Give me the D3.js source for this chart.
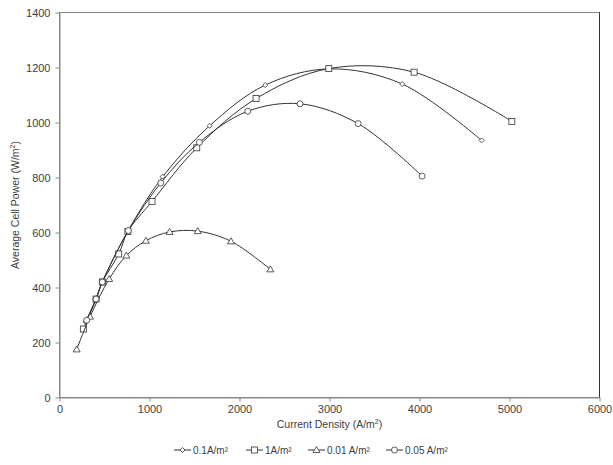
<!DOCTYPE html>
<html>
<head>
<meta charset="utf-8">
<script src="https://cdn.jsdelivr.net/npm/d3@7"></script>
<style>
  body { margin: 0; background: #fff; }
  text { font-family: "Liberation Sans", Arial, sans-serif; fill: #404040; }
</style>
</head>
<body>
<div class="canvas"></div>
<script>
// data: [current density, power]
const s01 = [[290,275],[400,355],[476,420],[760,605],[1147,803],[1668,988],[2286,1136],[3000,1195],[3808,1140],[4690,935]];
const s1 = [[265,249],[406,358],[476,420],[658,522],[760,604],[1028,713],[1525,908],[2184,1087],[2992,1196],[3940,1183],[5026,1004]];
const s001 = [[191,175],[339,294],[552,431],[743,516],[960,570],[1223,602],[1536,605],[1906,568],[2343,466]];
const s005 = [[302,281],[406,358],[476,420],[765,607],[1125,780],[1554,928],[2092,1041],[2673,1068],[3318,996],[4029,805]];

const seriesNames = ['0.1A/m²', '1A/m²', '0.01 A/m²', '0.05 A/m²'];
const seriesData = [s01, s1, s001, s005];
const seriesMarks = ['diamond', 'square', 'triangle', 'circle'];
const xTicks = [0, 1000, 2000, 3000, 4000, 5000, 6000];
const yTicks = [0, 200, 400, 600, 800, 1000, 1200, 1400];

let width = 613, height = 465;
let padL = 59.5, padR = 599.5, padT = 12.5, padB = 397.5;

const svg = d3.select('.canvas')
    .append('svg')
    .attr('width', width)
    .attr('height', height);

const xScale = d3.scaleLinear().domain([0, 6000]).range([padL, padR]);
const yScale = d3.scaleLinear().domain([0, 1400]).range([padB, padT]);

// plot border
svg.append('rect')
    .attr('x', padL).attr('y', padT)
    .attr('width', padR - padL).attr('height', padB - padT)
    .attr('fill', 'none').attr('stroke', '#888').attr('stroke-width', 1);
svg.append('line')
    .attr('x1', padR).attr('x2', padR).attr('y1', padT).attr('y2', padB)
    .attr('stroke', '#333');

const xAxis = d3.axisBottom(xScale).tickValues(xTicks).tickFormat(d3.format('d'))
    .tickSize(4).tickPadding(4).tickSizeOuter(0);
const yAxis = d3.axisLeft(yScale).tickValues(yTicks).tickFormat(d3.format('d'))
    .tickSize(4).tickPadding(5).tickSizeOuter(0);

svg.append('g')
    .attr('transform', `translate(0, ${padB})`)
    .call(xAxis)
    .call(g => g.select('.domain').attr('stroke', '#888'))
    .call(g => g.selectAll('.tick line').attr('stroke', '#888'))
    .call(g => g.selectAll('text').attr('font-size', 11).attr('fill', '#404040')
        .attr('font-family', '"Liberation Sans", Arial, sans-serif'));

svg.append('g')
    .attr('transform', `translate(${padL}, 0)`)
    .call(yAxis)
    .call(g => g.select('.domain').attr('stroke', '#888'))
    .call(g => g.selectAll('.tick line').attr('stroke', '#888'))
    .call(g => g.selectAll('text').attr('font-size', 11).attr('fill', '#404040')
        .attr('font-family', '"Liberation Sans", Arial, sans-serif'));

// axis titles
const xt = svg.append('text')
    .attr('x', (padL + padR) / 2).attr('y', 428)
    .attr('text-anchor', 'middle').attr('font-size', 10.5);
xt.append('tspan').text('Current Density (A/m');
xt.append('tspan').attr('dy', -4).attr('font-size', 7).text('2');
xt.append('tspan').attr('dy', 4).text(')');

const yt = svg.append('text')
    .attr('transform', `translate(19, ${(padT + padB) / 2}) rotate(-90)`)
    .attr('text-anchor', 'middle').attr('font-size', 10.5);
yt.append('tspan').text('Average Cell Power (W/m');
yt.append('tspan').attr('dy', -4).attr('font-size', 7).text('2');
yt.append('tspan').attr('dy', 4).text(')');

const line = d3.line()
    .x(d => xScale(d[0]))
    .y(d => yScale(d[1]))
    .curve(d3.curveCatmullRom.alpha(0.5));

let drawMark = (g, kind, x, y) => {
    if (kind === 'diamond') {
        g.append('path').attr('d', `M${x},${y - 2.5}L${x + 2.5},${y}L${x},${y + 2.5}L${x - 2.5},${y}Z`);
    } else if (kind === 'square') {
        g.append('rect').attr('x', x - 3).attr('y', y - 3).attr('width', 6).attr('height', 6);
    } else if (kind === 'triangle') {
        g.append('path').attr('d', `M${x},${y - 3.5}L${x + 3.5},${y + 2.5}L${x - 3.5},${y + 2.5}Z`);
    } else {
        g.append('circle').attr('cx', x).attr('cy', y).attr('r', 3);
    }
};

seriesData.forEach((data, i) => {
    svg.append('path')
        .datum(data)
        .attr('d', line)
        .attr('fill', 'none')
        .attr('stroke', '#333')
        .attr('stroke-width', 1);
    const g = svg.append('g').attr('fill', '#fff').attr('stroke', '#333').attr('stroke-width', 0.8);
    data.forEach(d => drawMark(g, seriesMarks[i], xScale(d[0]), yScale(d[1])));
});

// legend
const legendX = [174, 246, 308, 386];
seriesNames.forEach((name, i) => {
    const x0 = legendX[i], y0 = 450;
    svg.append('line')
        .attr('x1', x0).attr('x2', x0 + 17).attr('y1', y0).attr('y2', y0)
        .attr('stroke', '#333');
    const g = svg.append('g').attr('fill', '#fff').attr('stroke', '#333').attr('stroke-width', 0.8);
    drawMark(g, seriesMarks[i], x0 + 8.5, y0);
    svg.append('text')
        .attr('x', x0 + 19).attr('y', y0 + 3.5)
        .attr('font-size', 10)
        .text(name);
});
</script>
</body>
</html>
